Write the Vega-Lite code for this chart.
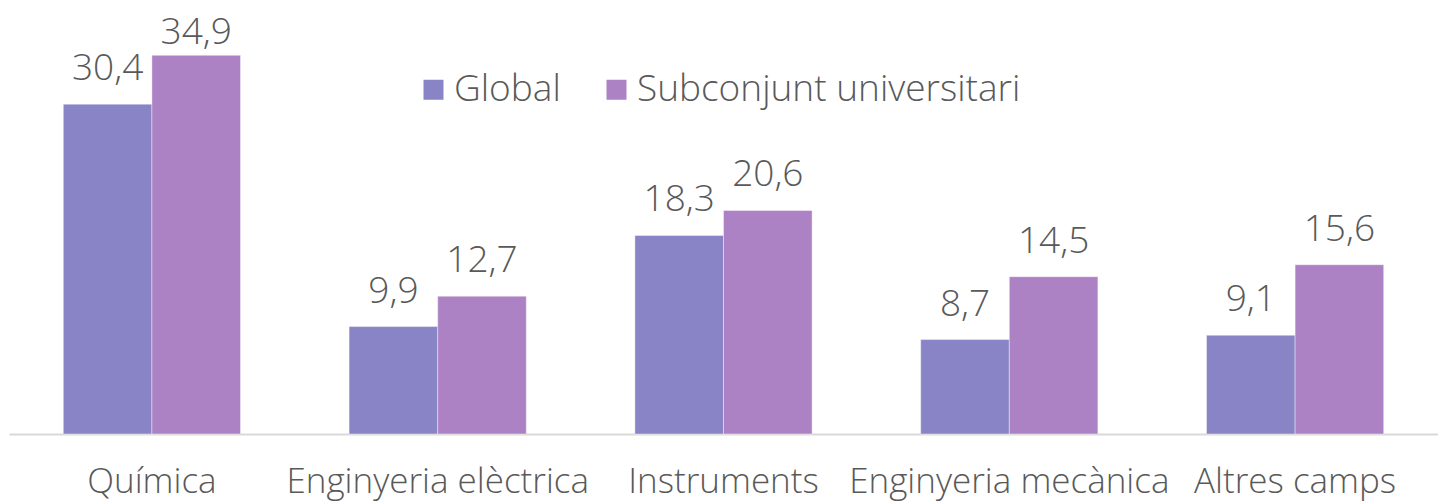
{
  "$schema": "https://vega.github.io/schema/vega-lite/v6.json",
  "width": 1429,
  "height": 434,
  "autosize": {"type": "none"},
  "padding": {"left": 9, "top": 0, "right": 0, "bottom": 68},
  "config": {
    "view": {"stroke": null},
    "font": "Open Sans",
    "locale": {"number": {"decimal": ",", "thousands": ".", "grouping": [3], "currency": ["", " €"]}}
  },
  "data": {
    "values": [
      {"camp": "Química", "serie": "Global", "valor": 30.4},
      {"camp": "Química", "serie": "Subconjunt universitari", "valor": 34.9},
      {"camp": "Enginyeria elèctrica", "serie": "Global", "valor": 9.9},
      {"camp": "Enginyeria elèctrica", "serie": "Subconjunt universitari", "valor": 12.7},
      {"camp": "Instruments", "serie": "Global", "valor": 18.3},
      {"camp": "Instruments", "serie": "Subconjunt universitari", "valor": 20.6},
      {"camp": "Enginyeria mecànica", "serie": "Global", "valor": 8.7},
      {"camp": "Enginyeria mecànica", "serie": "Subconjunt universitari", "valor": 14.5},
      {"camp": "Altres camps", "serie": "Global", "valor": 9.1},
      {"camp": "Altres camps", "serie": "Subconjunt universitari", "valor": 15.6}
    ]
  },
  "encoding": {
    "x": {
      "field": "camp",
      "type": "nominal",
      "sort": ["Química", "Enginyeria elèctrica", "Instruments", "Enginyeria mecànica", "Altres camps"],
      "scale": {"paddingInner": 0.38, "paddingOuter": 0.19},
      "axis": {
        "title": null,
        "labelAngle": 0,
        "ticks": false,
        "grid": false,
        "domainColor": "#d9d9d9",
        "domainWidth": 2,
        "labelFontSize": 35,
        "labelFontWeight": 300,
        "labelColor": "#595959",
        "labelPadding": 30,
        "labelLimit": 0,
        "labelOverlap": false
      }
    },
    "xOffset": {
      "field": "serie",
      "type": "nominal",
      "sort": ["Global", "Subconjunt universitari"],
      "scale": {"paddingInner": 0, "paddingOuter": 0}
    },
    "y": {
      "field": "valor",
      "type": "quantitative",
      "scale": {"domain": [0, 40], "nice": false},
      "axis": null
    }
  },
  "layer": [
    {
      "mark": {"type": "bar", "stroke": "white", "strokeWidth": 1, "strokeOpacity": 0.4},
      "encoding": {
        "color": {
          "field": "serie",
          "type": "nominal",
          "sort": ["Global", "Subconjunt universitari"],
          "scale": {"range": ["#8884C6", "#AD82C4"]},
          "legend": {
            "title": null,
            "orient": "none",
            "legendX": 406,
            "legendY": 71,
            "direction": "horizontal",
            "symbolType": "square",
            "symbolSize": 400,
            "symbolStrokeWidth": 0,
            "labelFontSize": 37,
            "labelFontWeight": 300,
            "labelColor": "#595959",
            "labelOffset": 2,
            "labelLimit": 0,
            "columnPadding": 37,
            "padding": 0
          }
        }
      }
    },
    {
      "transform": [{"filter": "datum.valor < 34"}],
      "mark": {"type": "text", "baseline": "alphabetic", "dy": -24, "fontSize": 37, "fontWeight": 300, "color": "#595959"},
      "encoding": {
        "text": {"field": "valor", "type": "quantitative", "format": ".1f"}
      }
    },
    {
      "transform": [{"filter": "datum.valor >= 34"}],
      "mark": {"type": "text", "baseline": "alphabetic", "dy": -11, "fontSize": 37, "fontWeight": 300, "color": "#595959"},
      "encoding": {
        "text": {"field": "valor", "type": "quantitative", "format": ".1f"}
      }
    }
  ]
}
